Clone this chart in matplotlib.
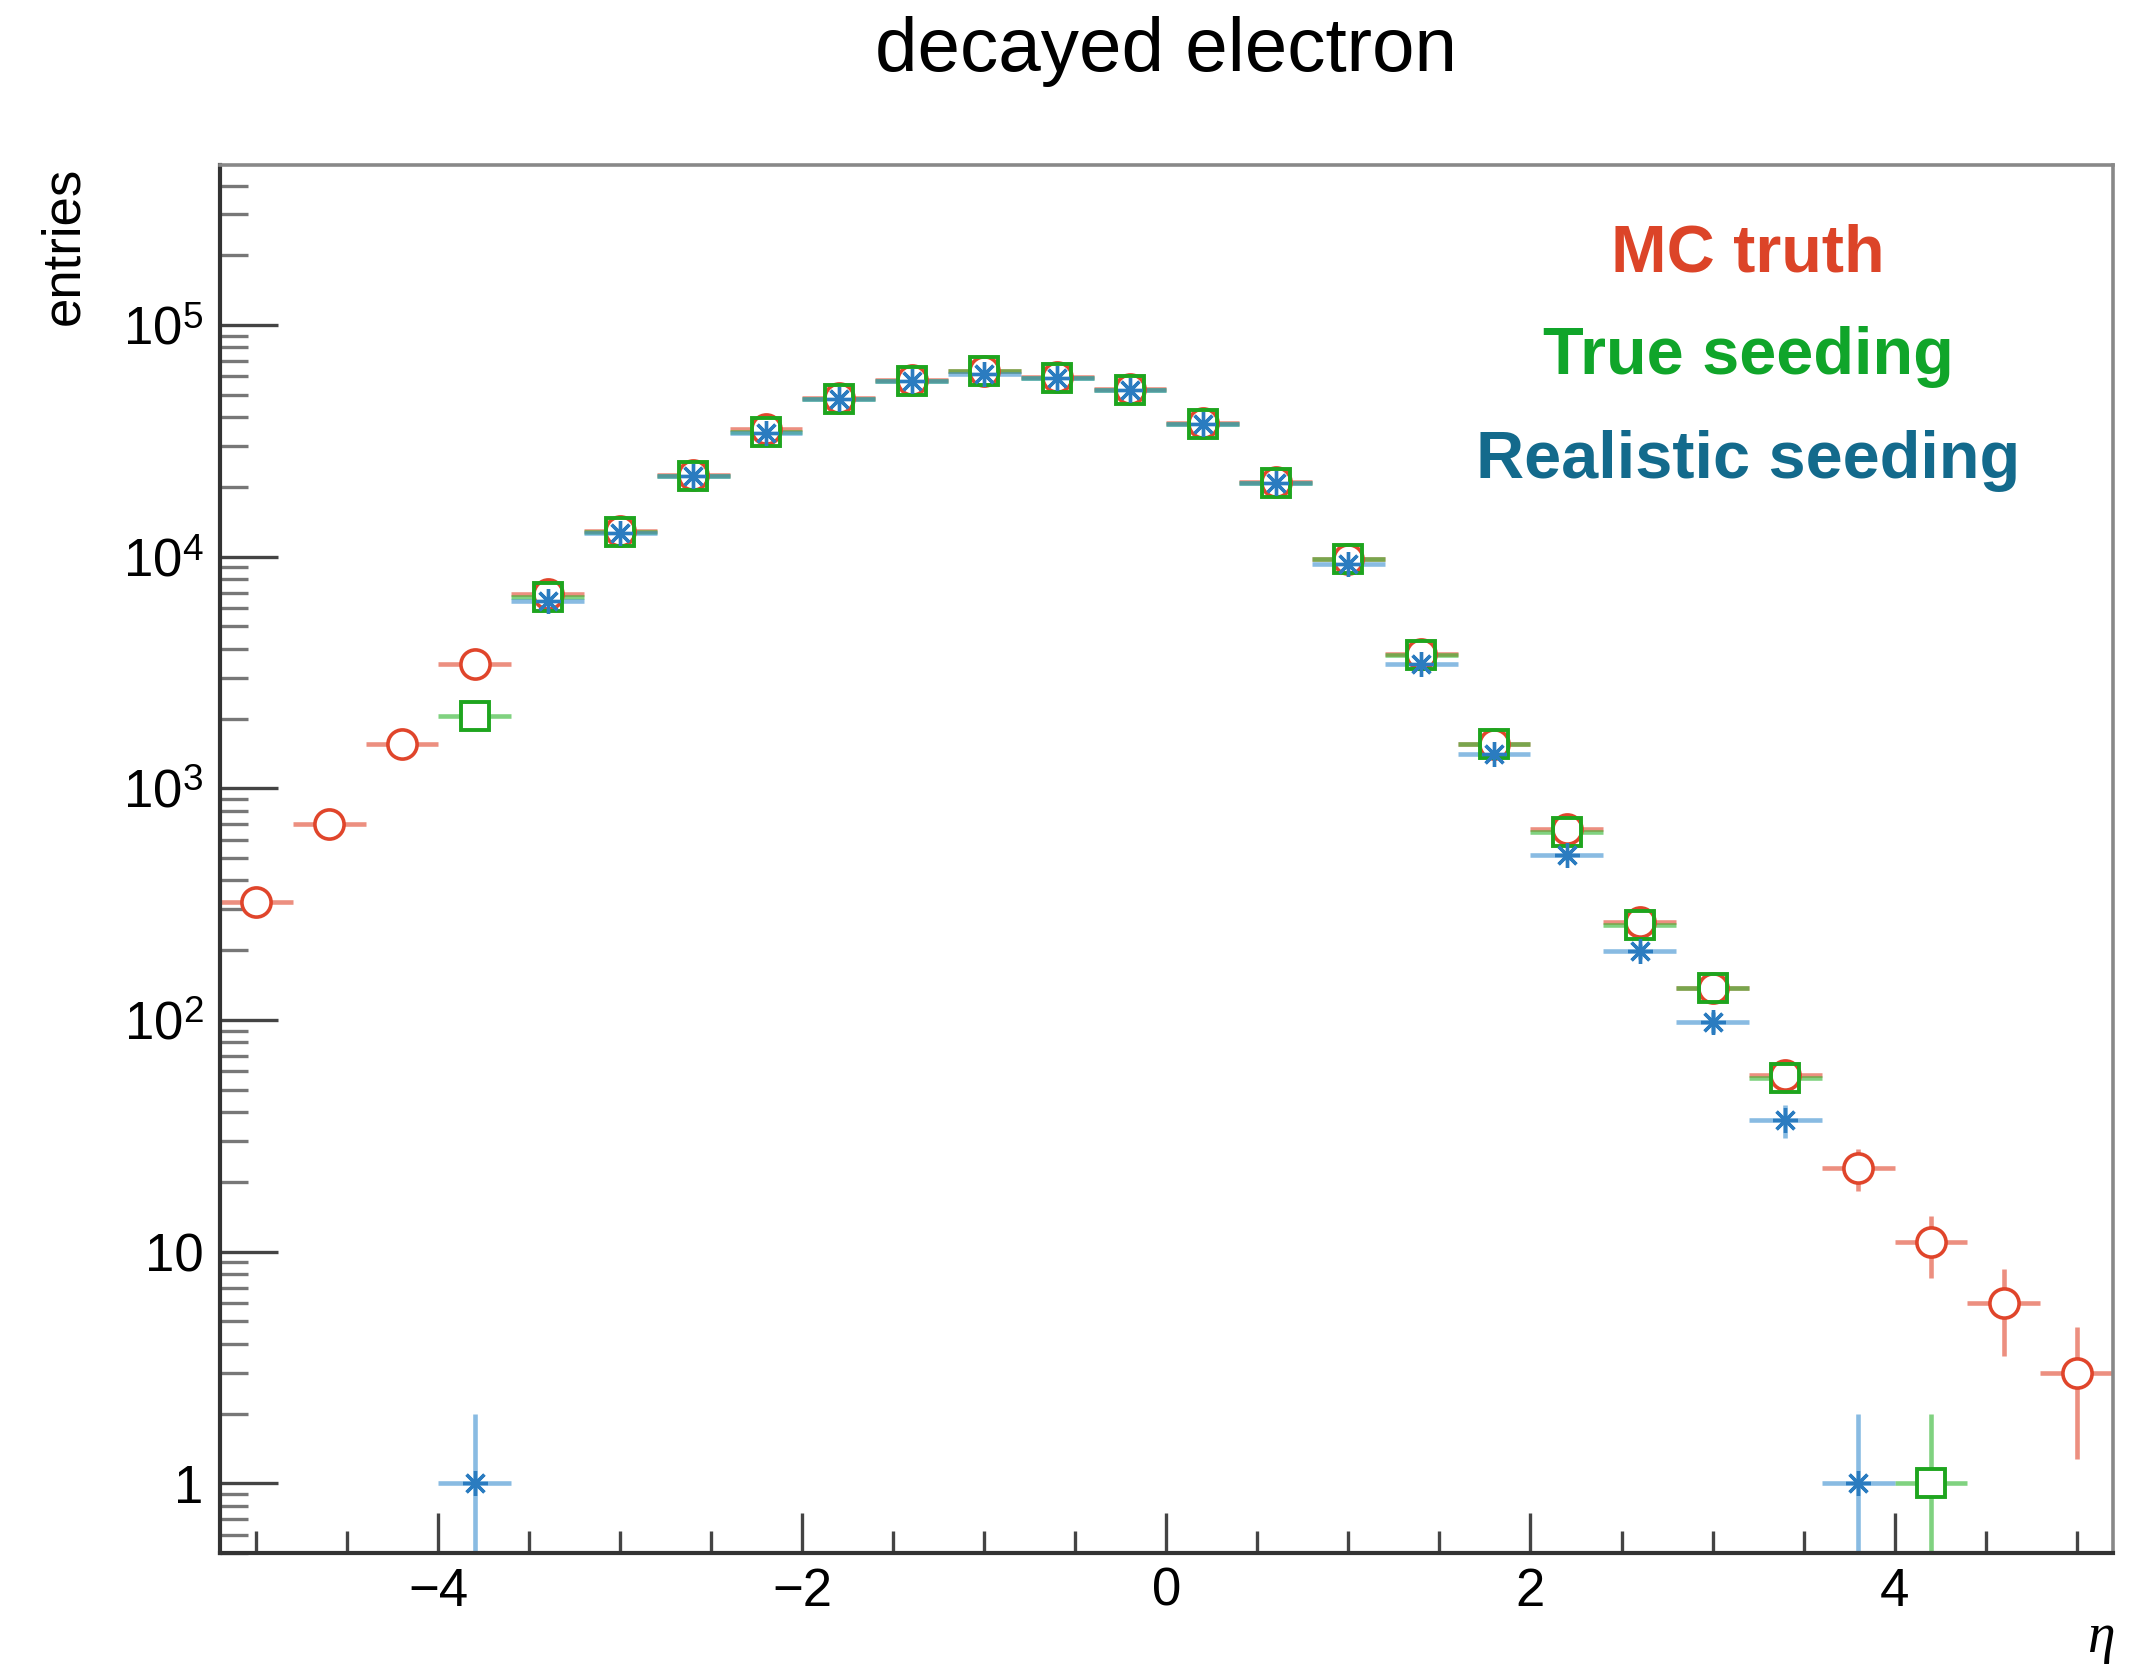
import numpy as np
import matplotlib
matplotlib.use("Agg")
from matplotlib import pyplot as plt
from matplotlib.ticker import FixedLocator, MultipleLocator, LogLocator, NullFormatter, FuncFormatter

# bin centres (width 0.4) and entries per bin
eta = [-5.0, -4.6, -4.2, -3.8, -3.4, -3.0, -2.6, -2.2, -1.8, -1.4, -1.0, -0.6, -0.2,
       0.2, 0.6, 1.0, 1.4, 1.8, 2.2, 2.6, 3.0, 3.4, 3.8, 4.2, 4.6, 5.0]
mc_truth = [323, 700, 1552, 3440, 6900, 12900, 22500, 35500, 48500, 58000, 63500, 59500, 52800,
            37600, 21000, 9800, 3800, 1560, 670, 266, 137, 58, 23, 11, 6, 3]
true_seeding = [0, 0, 0, 2060, 6700, 12800, 22400, 34500, 48000, 57500, 63000, 59000, 52500,
                37400, 20800, 9770, 3760, 1550, 645, 258, 137, 56, 0, 1, 0, 0]
realistic_seeding = [0, 0, 0, 1, 6430, 12700, 22300, 34300, 47800, 57300, 61500, 59000, 52300,
                     37300, 20700, 9300, 3440, 1405, 515, 198, 98, 37, 1, 0, 0, 0]
labels = ["MC truth", "True seeding", "Realistic seeding"]
half_bin = 0.2

plt.rcParams["font.family"] = ["Liberation Sans", "DejaVu Sans"]
plt.rcParams["mathtext.fontset"] = "custom"
plt.rcParams["mathtext.rm"] = "Liberation Sans"
plt.rcParams["mathtext.it"] = "Liberation Serif:italic"

fig = plt.figure(figsize=(21.46, 16.71), dpi=100)
ax = fig.add_axes([0.1025, 0.0706, 0.8821, 0.8306])

series = [
    (mc_truth, "#e0452b", "#e0452b", "o", 21, 2.6),
    (true_seeding, "#1ea51e", "#2cb52c", "s", 20, 2.8),
    (realistic_seeding, "#2b7cc0", "#3a8fcf", (8, 2, 0), 18, 2.4),
]

x = np.array(eta)
for vals, mcol, ecol, marker, ms, mew in series:
    y = np.array(vals, dtype=float)
    m = y > 0
    err = np.sqrt(y[m])
    lo = np.minimum(err, y[m] - 1e-4)
    ax.errorbar(x[m], y[m], xerr=half_bin, yerr=[lo, err], fmt="none",
                ecolor=ecol, alpha=0.6, elinewidth=3.3, capsize=0, zorder=2)

# white interiors so bars keep a gap round the markers, like ROOT
for vals, mcol, ecol, marker, ms, mew in series[:2]:
    y = np.array(vals, dtype=float)
    m = y > 0
    ax.plot(x[m], y[m], ls="none", marker=marker, ms=ms, mfc="white", mec="none", zorder=3)

for vals, mcol, ecol, marker, ms, mew in series:
    y = np.array(vals, dtype=float)
    m = y > 0
    ax.plot(x[m], y[m], ls="none", marker=marker, ms=ms, mfc="none", mec=mcol, mew=mew, zorder=4)

ax.set_yscale("log")
ax.set_xlim(-5.2, 5.2)
ax.set_ylim(0.5, 4.9e5)

ax.xaxis.set_major_locator(FixedLocator([-4, -2, 0, 2, 4]))
ax.xaxis.set_minor_locator(MultipleLocator(0.5))
ax.yaxis.set_major_locator(LogLocator(base=10, numticks=20))
ax.yaxis.set_minor_locator(LogLocator(base=10, subs=np.arange(2, 10), numticks=20))
ax.yaxis.set_minor_formatter(NullFormatter())


def ylab(v, pos):
    p = int(round(np.log10(v)))
    if p == 0:
        return "1"
    if p == 1:
        return "10"
    return r"$10^{%d}$" % p


ax.yaxis.set_major_formatter(FuncFormatter(ylab))

ax.tick_params(axis="both", which="both", direction="in", top=False, right=False,
               color="#444444", width=2.4, labelsize=38)
ax.tick_params(axis="x", which="major", length=29, pad=10)
ax.tick_params(axis="x", which="minor", length=16)
ax.tick_params(axis="y", which="major", length=42, pad=12)
ax.tick_params(axis="y", which="minor", length=20, color="#777777")

for side in ["left", "bottom"]:
    ax.spines[side].set_color("#333333")
    ax.spines[side].set_linewidth(3.0)
for side in ["top", "right"]:
    ax.spines[side].set_color("#888888")
    ax.spines[side].set_linewidth(2.6)

fig.text(0.5434, 0.9575, "decayed electron", ha="center", va="baseline", fontsize=55)
fig.text(64 / 2146, 1 - 167 / 1671, "entries", rotation=90, ha="center", va="top", fontsize=38)
fig.text(2115 / 2146, 1 - 1652 / 1671, "η", ha="right", va="baseline", fontsize=40,
         family="Liberation Serif", style="italic")

text_cols = ["#dc4428", "#10a52a", "#136a8c"]
text_y = [0.8378, 0.7762, 0.7140]
for lab, col, ty in zip(labels, text_cols, text_y):
    fig.text(0.8145, ty, lab, ha="center", va="baseline", fontsize=48,
             fontweight="bold", color=col)

fig.savefig("out.png", dpi=100)
